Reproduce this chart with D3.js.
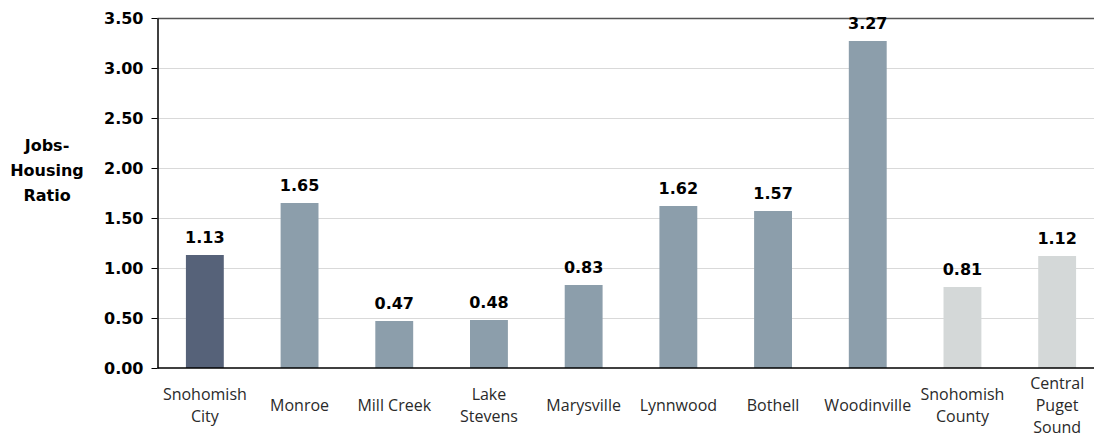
<!DOCTYPE html>
<html>
<head>
<meta charset="utf-8">
<script src="https://cdn.jsdelivr.net/npm/d3@7"></script>
<style>
  body { margin: 0; background: #fff; }
  svg { display: block; }
  .tick text { font-family: "DejaVu Sans", sans-serif; font-weight: 700; font-size: 16px; fill: #000; }
  .cat { font-family: "Open Sans", sans-serif; font-size: 16px; fill: #2a2a2a; }
  .val { font-family: "DejaVu Sans", sans-serif; font-weight: 700; font-size: 16px; fill: #000; }
  .ytitle { font-family: "DejaVu Sans", sans-serif; font-weight: 700; font-size: 16px; fill: #000; }
</style>
</head>
<body>
<svg width="1094" height="438"></svg>
<script>
// data
const places = ["Snohomish City", "Monroe", "Mill Creek", "Lake Stevens", "Marysville",
                "Lynnwood", "Bothell", "Woodinville", "Snohomish County", "Central Puget Sound"];
const placeLines = [["Snohomish", "City"], ["Monroe"], ["Mill Creek"], ["Lake", "Stevens"], ["Marysville"],
                    ["Lynnwood"], ["Bothell"], ["Woodinville"], ["Snohomish", "County"], ["Central", "Puget", "Sound"]];
const ratios = [1.13, 1.65, 0.47, 0.48, 0.83, 1.62, 1.57, 3.27, 0.81, 1.12];
const groups = ["city", "peer", "peer", "peer", "peer", "peer", "peer", "peer", "region", "region"];
const yTicks = [0, 0.5, 1, 1.5, 2, 2.5, 3, 3.5];

const colors = { city: "#566279", peer: "#8c9eab", region: "#d4d8d8" };

const svg = d3.select("svg");
const plotLeft = 157.5, plotTop = 18, plotBottom = 368;

const x = d3.scaleBand()
    .domain(places)
    .range([plotLeft, 1104.5])
    .paddingInner(0.6)
    .paddingOuter(0.3);

const y = d3.scaleLinear().domain([0, 3.5]).range([plotBottom, plotTop]);

// gridlines
svg.append("g")
    .selectAll("line")
    .data(yTicks.filter(d => d > 0 && d < 3.5))
    .enter().append("line")
    .attr("x1", plotLeft).attr("x2", 1094)
    .attr("y1", d => y(d) + 0.5).attr("y2", d => y(d) + 0.5)
    .attr("stroke", "#d9d9d9").attr("stroke-width", 1);

// top border
svg.append("line")
    .attr("x1", plotLeft).attr("x2", 1094)
    .attr("y1", y(3.5) + 0.5).attr("y2", y(3.5) + 0.5)
    .attr("stroke", "#555").attr("stroke-width", 1.5);

// bars
svg.append("g")
    .selectAll("rect")
    .data(places)
    .enter().append("rect")
    .attr("x", d => x(d))
    .attr("width", x.bandwidth())
    .attr("y", (d, i) => y(ratios[i]))
    .attr("height", (d, i) => plotBottom - y(ratios[i]))
    .attr("fill", (d, i) => colors[groups[i]]);

// value labels
svg.append("g")
    .selectAll("text")
    .data(places)
    .enter().append("text")
    .attr("class", "val")
    .attr("text-anchor", "middle")
    .attr("x", d => x(d) + x.bandwidth() / 2)
    .attr("y", (d, i) => y(ratios[i]) - 12)
    .text((d, i) => ratios[i].toFixed(2));

// y axis
const yAxis = svg.append("g")
    .attr("transform", "translate(" + plotLeft + ",0)")
    .call(d3.axisLeft(y).tickValues(yTicks).tickFormat(d3.format(".2f")).tickSize(6).tickSizeOuter(0));
yAxis.select(".domain").attr("stroke", "#000").attr("stroke-width", 1.5);
yAxis.selectAll(".tick line").attr("stroke", "#000");
yAxis.selectAll(".tick text").attr("x", -14);

// baseline
svg.append("line")
    .attr("x1", plotLeft).attr("x2", 1094)
    .attr("y1", plotBottom).attr("y2", plotBottom)
    .attr("stroke", "#000").attr("stroke-width", 1.5);

// category labels
const lineH = 22;
const cats = svg.append("g")
    .selectAll("text")
    .data(places)
    .enter().append("text")
    .attr("class", "cat")
    .attr("text-anchor", "middle")
    .attr("x", d => x(d) + x.bandwidth() / 2);

cats.each(function (d, i) {
    const lines = placeLines[i];
    const y0 = 411 - (lines.length - 1) * lineH / 2;
    d3.select(this).selectAll("tspan")
        .data(lines)
        .enter().append("tspan")
        .attr("x", x(d) + x.bandwidth() / 2)
        .attr("y", (l, j) => y0 + j * lineH)
        .text(l => l);
});

// y title
svg.append("text")
    .attr("class", "ytitle")
    .attr("text-anchor", "middle")
    .selectAll("tspan")
    .data(["Jobs-", "Housing", "Ratio"])
    .enter().append("tspan")
    .attr("x", 47)
    .attr("y", (d, i) => 151 + i * 25)
    .text(d => d);
</script>
</body>
</html>
